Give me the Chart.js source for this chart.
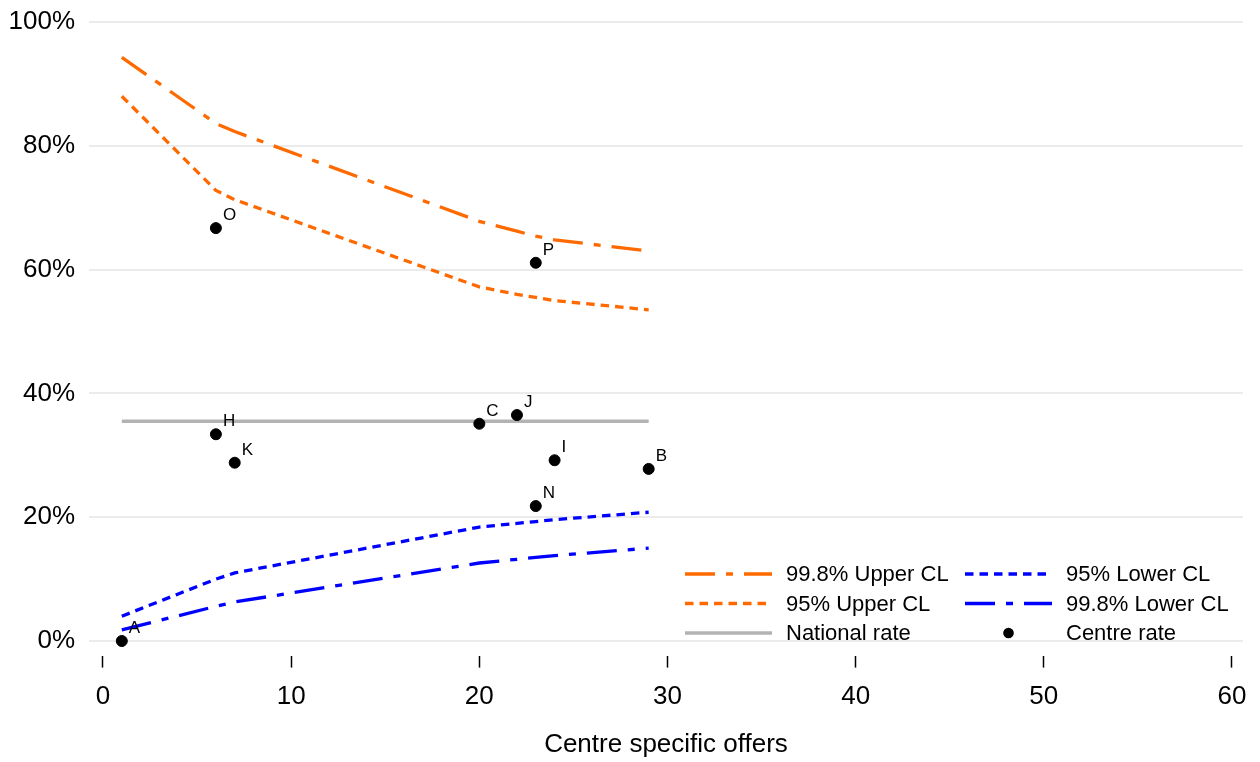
<!DOCTYPE html>
<html>
<head>
<meta charset="utf-8">
<script src="https://cdn.jsdelivr.net/npm/chart.js@4"></script>
<style>
  body { margin: 0; background: #fff; }
  #wrap { width: 1260px; height: 762px; }
</style>
</head>
<body>
<div id="wrap"><canvas id="funnel" width="1260" height="762"></canvas></div>
<script>
// Funnel limits (x = centre specific offers, y = rate in %)
const limitX = [1, 6, 7, 20, 22, 23, 24, 29];
const upper998 = [94.3, 83.6, 82.3, 67.8, 66.2, 65.4, 64.8, 63.0];
const upper95 = [88.0, 72.8, 71.3, 57.2, 56.0, 55.5, 55.0, 53.5];
const lower95 = [4.0, 10.0, 11.0, 18.4, 19.0, 19.3, 19.6, 20.8];
const lower998 = [1.8, 5.6, 6.3, 12.6, 13.2, 13.5, 13.8, 15.0];
const nationalRate = 35.5;

// Centres
const centreNames = ['A', 'O', 'P', 'H', 'K', 'C', 'J', 'I', 'B', 'N'];
const centreOffers = [1, 6, 23, 6, 7, 20, 22, 24, 29, 23];
const centreRates = [0, 66.7, 61.1, 33.4, 28.8, 35.1, 36.5, 29.2, 27.8, 21.8];

const xTicks = [0, 10, 20, 30, 40, 50, 60];
const yTicks = [0, 20, 40, 60, 80, 100];

const ORANGE = '#ff6a00';
const BLUE = '#0000ff';
const GREY = '#b3b3b3';
const DASHDOT = [30, 11, 7, 11];
const DOTTED = [8.5, 6];
const FONT = 'Arial, "Liberation Sans", sans-serif';

function toPoints(xs, ys) {
    return xs.map((x, i) => ({ x: x, y: ys[i] }));
}

function lineSet(label, values, color, dash) {
    return {
        type: 'line',
        label: label,
        data: toPoints(limitX, values),
        borderColor: color,
        borderWidth: 3.3,
        borderDash: dash,
        pointRadius: 0,
        fill: false,
        tension: 0,
        order: 2
    };
}

const datasets = [
    {
        type: 'scatter',
        label: 'Centre rate',
        data: toPoints(centreOffers, centreRates),
        backgroundColor: '#000',
        borderColor: '#000',
        pointRadius: 5.5,
        order: 0
    },
    lineSet('99.8% Upper CL', upper998, ORANGE, DASHDOT),
    lineSet('95% Upper CL', upper95, ORANGE, DOTTED),
    lineSet('95% Lower CL', lower95, BLUE, DOTTED),
    lineSet('99.8% Lower CL', lower998, BLUE, DASHDOT),
    {
        type: 'line',
        label: 'National rate',
        data: [{ x: limitX[0], y: nationalRate }, { x: limitX[limitX.length - 1], y: nationalRate }],
        borderColor: GREY,
        borderWidth: 3.5,
        pointRadius: 0,
        order: 1
    }
];

// Letters next to each centre dot
const pointLabels = {
    id: 'pointLabels',
    afterDatasetsDraw(chart) {
        const ctx = chart.ctx;
        const meta = chart.getDatasetMeta(0);
        ctx.save();
        ctx.fillStyle = '#000';
        ctx.font = '17px ' + FONT;
        ctx.textAlign = 'left';
        ctx.textBaseline = 'alphabetic';
        meta.data.forEach((el, i) => {
            ctx.fillText(centreNames[i], el.x + 7, el.y - 8);
        });
        ctx.restore();
    }
};

// Two-column legend in the bottom right of the plot
const funnelLegend = {
    id: 'funnelLegend',
    afterDraw(chart) {
        const ctx = chart.ctx;
        const rows = [574, 603.5, 633];
        const items = [
            { col: 0, row: 0, label: '99.8% Upper CL', color: ORANGE, dash: DASHDOT },
            { col: 0, row: 1, label: '95% Upper CL', color: ORANGE, dash: DOTTED },
            { col: 0, row: 2, label: 'National rate', color: GREY, dash: [] },
            { col: 1, row: 0, label: '95% Lower CL', color: BLUE, dash: DOTTED },
            { col: 1, row: 1, label: '99.8% Lower CL', color: BLUE, dash: DASHDOT },
            { col: 1, row: 2, label: 'Centre rate', dot: true }
        ];
        const cols = [{ x0: 685, x1: 772, tx: 786 }, { x0: 965, x1: 1052, tx: 1066 }];
        ctx.save();
        ctx.font = '22px ' + FONT;
        ctx.textBaseline = 'middle';
        items.forEach(it => {
            const c = cols[it.col];
            const y = rows[it.row];
            if (it.dot) {
                ctx.fillStyle = '#000';
                ctx.beginPath();
                ctx.arc((c.x0 + c.x1) / 2, y, 5.3, 0, Math.PI * 2);
                ctx.fill();
            } else {
                ctx.strokeStyle = it.color;
                ctx.lineWidth = it.dash.length ? 3.3 : 3.5;
                ctx.setLineDash(it.dash);
                ctx.beginPath();
                ctx.moveTo(c.x0, y);
                ctx.lineTo(c.x1, y);
                ctx.stroke();
                ctx.setLineDash([]);
            }
            ctx.fillStyle = '#000';
            ctx.fillText(it.label, c.tx, y + 1);
        });
        ctx.restore();
    }
};

new Chart(document.getElementById('funnel'), {
    data: { datasets: datasets },
    options: {
        responsive: false,
        animation: false,
        layout: { padding: { left: 0, right: 17, top: 15, bottom: 2 } },
        plugins: {
            legend: { display: false },
            tooltip: { enabled: false }
        },
        scales: {
            x: {
                type: 'linear',
                min: -0.744,
                max: 60.585,
                afterBuildTicks: axis => { axis.ticks = xTicks.map(v => ({ value: v })); },
                afterFit: axis => {
                    axis.height = 104.4;
                    axis.paddingLeft = 0;
                    axis.paddingRight = 0;
                },
                grid: {
                    drawOnChartArea: false,
                    drawTicks: true,
                    tickLength: 12,
                    tickWidth: 1.5,
                    tickColor: '#000'
                },
                border: { display: false },
                ticks: {
                    color: '#000',
                    font: { family: FONT, size: 26 },
                    padding: 14,
                    maxRotation: 0
                },
                title: {
                    display: true,
                    text: 'Centre specific offers',
                    color: '#000',
                    font: { family: FONT, size: 26 },
                    padding: { top: 17, bottom: 0 }
                }
            },
            y: {
                type: 'linear',
                min: -2.36,
                max: 101.13,
                afterBuildTicks: axis => { axis.ticks = yTicks.map(v => ({ value: v })); },
                afterFit: axis => {
                    axis.width = 89;
                    axis.paddingTop = 0;
                    axis.paddingBottom = 0;
                },
                grid: {
                    color: '#ebebeb',
                    lineWidth: 2,
                    drawTicks: false
                },
                border: { display: false },
                ticks: {
                    color: '#000',
                    font: { family: FONT, size: 26 },
                    padding: 14,
                    callback: v => v + '%'
                }
            }
        }
    },
    plugins: [pointLabels, funnelLegend]
});
</script>
</body>
</html>
